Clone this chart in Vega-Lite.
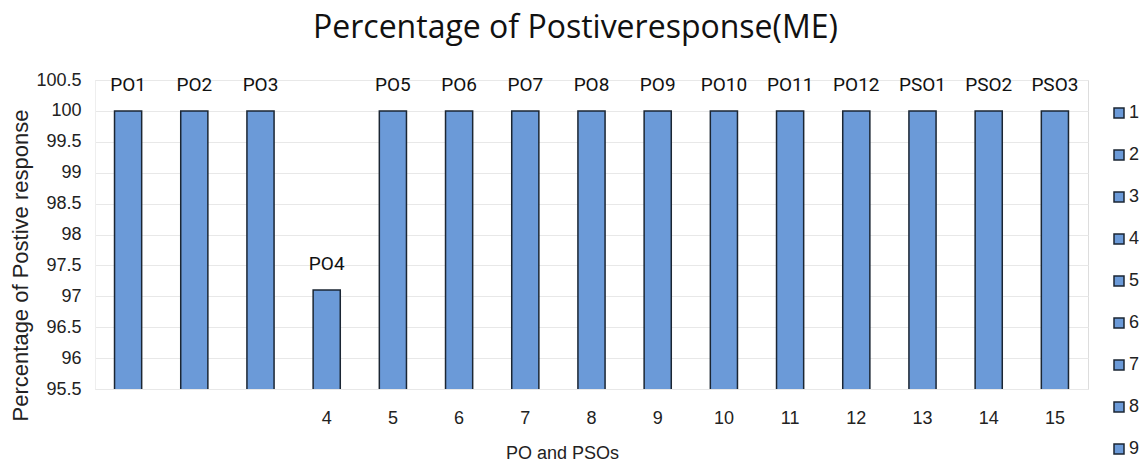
{
  "$schema": "https://vega.github.io/schema/vega-lite/v6.json",
  "autosize": "none",
  "width": 993,
  "height": 309,
  "padding": {"left": 95, "top": 80, "right": 53, "bottom": 78},
  "background": "white",
  "title": {
    "text": "Percentage of Postiveresponse(ME)",
    "font": "Open Sans",
    "fontSize": 32,
    "fontWeight": "normal",
    "color": "#111111",
    "anchor": "start",
    "frame": "group",
    "dx": 218,
    "offset": 26
  },
  "data": {
    "values": [
      {"n": 1, "label": "PO1", "value": 100},
      {"n": 2, "label": "PO2", "value": 100},
      {"n": 3, "label": "PO3", "value": 100},
      {"n": 4, "label": "PO4", "value": 97.1},
      {"n": 5, "label": "PO5", "value": 100},
      {"n": 6, "label": "PO6", "value": 100},
      {"n": 7, "label": "PO7", "value": 100},
      {"n": 8, "label": "PO8", "value": 100},
      {"n": 9, "label": "PO9", "value": 100},
      {"n": 10, "label": "PO10", "value": 100},
      {"n": 11, "label": "PO11", "value": 100},
      {"n": 12, "label": "PO12", "value": 100},
      {"n": 13, "label": "PSO1", "value": 100},
      {"n": 14, "label": "PSO2", "value": 100},
      {"n": 15, "label": "PSO3", "value": 100}
    ]
  },
  "encoding": {
    "x": {
      "field": "n",
      "type": "ordinal",
      "scale": {"paddingInner": 0.59, "paddingOuter": 0.295},
      "axis": {
        "title": "PO and PSOs",
        "values": [4, 5, 6, 7, 8, 9, 10, 11, 12, 13, 14, 15],
        "labelAngle": 0,
        "labelFont": "Liberation Sans",
        "labelFontSize": 18,
        "labelColor": "#222222",
        "labelPadding": 20,
        "ticks": false,
        "domain": false,
        "titleFont": "Liberation Sans",
        "titleFontSize": 18,
        "titleFontWeight": "normal",
        "titleColor": "#222222",
        "titleX": 467,
        "titleY": 64,
        "titleBaseline": "middle"
      }
    },
    "y": {
      "field": "value",
      "type": "quantitative",
      "scale": {"domain": [95.5, 100.5], "zero": false, "nice": false},
      "axis": {
        "title": "Percentage of Postive response",
        "values": [95.5, 96, 96.5, 97, 97.5, 98, 98.5, 99, 99.5, 100, 100.5],
        "format": ".1~f",
        "labelFont": "Liberation Sans",
        "labelFontSize": 18,
        "labelColor": "#222222",
        "labelPadding": 14,
        "ticks": false,
        "domain": true,
        "domainColor": "#eeeeee",
        "grid": true,
        "gridColor": "#e8e8e8",
        "titleFont": "Liberation Sans",
        "titleFontSize": 22,
        "titleFontWeight": "normal",
        "titleColor": "#222222",
        "titleX": -75,
        "titleY": 185,
        "titleBaseline": "middle",
        "titleAngle": -90
      }
    }
  },
  "layer": [
    {
      "mark": {"type": "bar", "stroke": "#1b2633", "strokeWidth": 1.5, "clip": true},
      "encoding": {
        "color": {
          "field": "n",
          "type": "nominal",
          "scale": {"range": ["#6b9ad8", "#6b9ad8", "#6b9ad8", "#6b9ad8", "#6b9ad8", "#6b9ad8", "#6b9ad8", "#6b9ad8", "#6b9ad8", "#6b9ad8", "#6b9ad8", "#6b9ad8", "#6b9ad8", "#6b9ad8", "#6b9ad8"]},
          "legend": {
            "title": null,
            "values": [1, 2, 3, 4, 5, 6, 7, 8, 9],
            "orient": "none",
            "legendX": 1015,
            "legendY": 24,
            "symbolType": "square",
            "symbolSize": 100,
            "symbolStrokeColor": "#1b2633",
            "symbolStrokeWidth": 1.5,
            "labelFont": "Liberation Sans",
            "labelFontSize": 18,
            "labelColor": "#222222",
            "labelOffset": 1,
            "rowPadding": 24
          }
        }
      }
    },
    {
      "mark": {"type": "text", "baseline": "bottom", "dy": -16, "font": "Roboto", "fontSize": 19, "color": "#111111"},
      "encoding": {
        "text": {"field": "label"}
      }
    }
  ]
}
